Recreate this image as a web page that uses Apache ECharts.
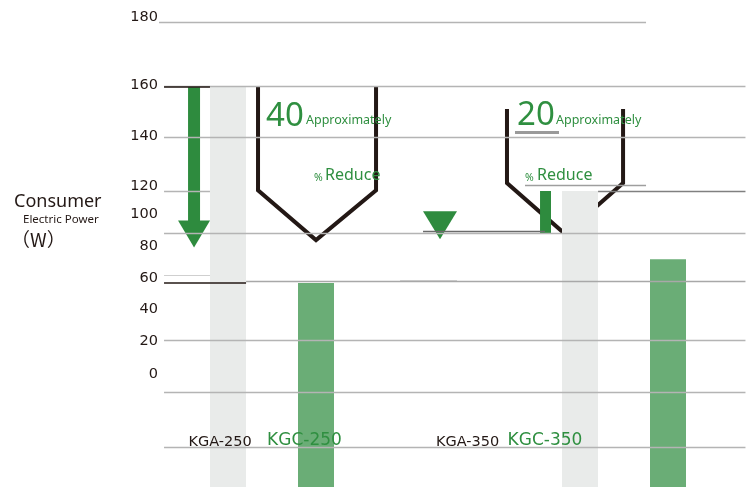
<!DOCTYPE html>
<html><head><meta charset="utf-8">
<script src="https://cdn.jsdelivr.net/npm/echarts@6/dist/echarts.min.js"></script>
<style>html,body{margin:0;padding:0;background:#fff}#c{width:746px;height:487px}</style>
</head><body><div id="c"></div>
<script>
// ---- data ----
const categories = ['KGA-250', 'KGC-250', '', ' ', 'KGA-350', 'KGC-350'];
const conventionalPower = [160, null, null, null, 120, null];
const improvedPower = [null, 85, null, null, null, 94];
const reductionPercent = ['40', '20'];
const tickLabels = ['180', '160', '140', '120', '100', '80', '60', '40', '20', '0'];
const tickLevels = [186.2, 160.3, 140.9, 121.8, 111.2, 99.0, 86.8, 74.8, 62.6, 50.2];

// ---- styling ----
const DARK = '#231815', ARROW = '#2e8b3e', TXT = '#2f8f40';
const BAR_GRAY = '#e9ebea', BAR_GREEN = '#6aad76', GRID = '#b4b4b4';
const FONT = '"Noto Sans", "DejaVu Sans", sans-serif';
const FONT2 = '"DejaVu Sans", sans-serif';

const chart = echarts.init(document.getElementById('c'), null, {renderer: 'canvas'});

function seg(u1, u2, v, color, width) {
  return [{coord: [u1, v], lineStyle: {color: color, width: width, type: 'solid'}}, {coord: [u2, v]}];
}
const gridSegments = [
  seg(-0.784, 4.75, 184.4, GRID, 1.3),
  seg(-0.727, 5.88, 159.8, GRID, 1.3),
  seg(-0.727, -0.205, 159.8, DARK, 1.5),
  seg(-0.727, 5.88, 140.6, GRID, 1.3),
  seg(3.375, 4.75, 122.3, '#9e9e9e', 1.3),
  seg(-0.727, -0.205, 120, GRID, 1.3),
  seg(4.205, 5.88, 120, '#808080', 1.3),
  seg(-0.727, 5.88, 103.8, GRID, 1.3),
  seg(2.216, 3.602, 104.8, '#6b6b6b', 1.3),
  seg(-0.727, -0.205, 88, '#cfcfcf', 1.2),
  seg(-0.727, 0.205, 85, DARK, 1.5),
  seg(0.205, 5.88, 85.7, '#a8a8a8', 1.3),
  seg(1.955, 2.602, 86.1, '#c8c8c8', 1.2),
  seg(-0.727, 5.88, 63.2, GRID, 1.3),
  seg(-0.727, 5.88, 43.4, GRID, 1.3),
  seg(-0.727, 5.88, 22.5, GRID, 1.3),
  seg(3.261, 3.761, 142.4, '#9a9a9a', 3)
];

const texts = [
  {u: 0.432, v: 148.4, text: reductionPercent[0], size: 33, color: TXT},
  {u: 0.886, v: 147.0, text: 'Approximately', size: 12.5, color: TXT},
  {u: 0.977, v: 124.9, text: '%', size: 10.5, color: TXT},
  {u: 1.102, v: 125.9, text: 'Reduce', size: 16, color: TXT},
  {u: 3.284, v: 148.8, text: reductionPercent[1], size: 33, color: TXT},
  {u: 3.727, v: 147.0, text: 'Approximately', size: 12.5, color: TXT},
  {u: 3.375, v: 124.9, text: '%', size: 10.5, color: TXT},
  {u: 3.511, v: 125.9, text: 'Reduce', size: 16, color: TXT},
  {u: -0.091, v: 24.4, text: categories[0], size: 14.5, color: DARK, align: 'center', font: FONT2},
  {u: 0.869, v: 24.95, text: categories[1], size: 17, color: TXT, align: 'center', font: FONT2},
  {u: 2.722, v: 24.4, text: categories[4], size: 14.5, color: DARK, align: 'center', font: FONT2},
  {u: 3.602, v: 24.95, text: categories[5], size: 17, color: TXT, align: 'center', font: FONT2}
];

const option = {
  animation: false,
  backgroundColor: '#ffffff',
  grid: [
    {left: 184, right: 34, top: 7.25, bottom: -19, outerBoundsMode: 'none', containLabel: false},
    {left: 0, right: 0, top: 7.25, bottom: -19, outerBoundsMode: 'none', containLabel: false}
  ],
  xAxis: [
    {type: 'category', gridIndex: 0, data: categories, show: false},
    {type: 'value', gridIndex: 1, min: -2.591, max: 5.886, show: false}
  ],
  yAxis: [{
    type: 'value', gridIndex: 0, min: 0, max: 190,
    axisLine: {show: false}, axisTick: {show: false}, splitLine: {show: false},
    axisLabel: {
      customValues: tickLevels,
      margin: 26, color: DARK, fontSize: 14.5, fontFamily: FONT2,
      formatter: function (val) {
        const i = tickLevels.findIndex(t => Math.abs(t - val) < 1e-6);
        return i >= 0 ? tickLabels[i] : '';
      }
    }
  }, {
    type: 'value', gridIndex: 1, min: 0, max: 190, show: false
  }],
  graphic: [
    {type: 'text', x: 14, y: 202, style: {text: 'Consumer', font: '18px ' + FONT, fill: DARK, textVerticalAlign: 'middle', verticalAlign: 'middle'}},
    {type: 'text', x: 23, y: 220, style: {text: 'Electric Power', font: '11.5px ' + FONT, fill: DARK, textVerticalAlign: 'middle', verticalAlign: 'middle'}},
    {type: 'text', x: 11, y: 240, style: {text: '（W）', font: '19px "Noto Sans CJK JP", ' + FONT, fill: DARK, textVerticalAlign: 'middle', verticalAlign: 'middle'}}
  ],
  series: [
    {
      type: 'line', xAxisIndex: 1, yAxisIndex: 1, data: [], z: 1, clip: false, silent: true,
      markLine: {silent: true, symbol: ['none', 'none'], label: {show: false}, animation: false, data: gridSegments}
    },
    {
      type: 'line', xAxisIndex: 1, yAxisIndex: 1, z: 1, clip: false, symbol: 'none', silent: true,
      lineStyle: {color: DARK, width: 4, join: 'miter'},
      data: [[0.341, 159.9], [0.341, 120.3], [1.0, 101.3], [1.682, 120.3], [1.682, 159.9]]
    },
    {
      type: 'line', xAxisIndex: 1, yAxisIndex: 1, z: 1, clip: false, symbol: 'none', silent: true,
      lineStyle: {color: DARK, width: 4, join: 'miter'},
      data: [[3.170, 151.2], [3.170, 123.0], [3.830, 103.6], [4.489, 123.0], [4.489, 151.2]]
    },
    {
      name: 'conventional', type: 'bar', xAxisIndex: 0, yAxisIndex: 0, data: conventionalPower,
      barWidth: 36, barGap: '-100%', z: 3, itemStyle: {color: BAR_GRAY}
    },
    {
      name: 'improved', type: 'bar', xAxisIndex: 0, yAxisIndex: 0, data: improvedPower,
      barWidth: 36, barGap: '-100%', z: 3, itemStyle: {color: BAR_GREEN}
    },
    {
      type: 'line', xAxisIndex: 1, yAxisIndex: 1, z: 4, clip: false, symbol: 'none', silent: true,
      lineStyle: {color: ARROW, width: 12, cap: 'butt'},
      data: [[-0.386, 159.9], [-0.386, 108]]
    },
    {
      type: 'line', xAxisIndex: 1, yAxisIndex: 1, z: 4, clip: false, symbol: 'none', silent: true,
      lineStyle: {color: ARROW, width: 11, cap: 'butt'},
      data: [[3.608, 120], [3.608, 104]]
    },
    {
      type: 'scatter', xAxisIndex: 1, yAxisIndex: 1, z: 4, clip: false, silent: true,
      symbol: 'triangle', symbolRotate: 180, itemStyle: {color: ARROW, opacity: 1},
      data: [
        {value: [-0.386, 103.6], symbolSize: [32, 27]},
        {value: [2.409, 107.0], symbolSize: [34, 28]}
      ]
    },
    {
      type: 'scatter', xAxisIndex: 1, yAxisIndex: 1, z: 5, clip: false, silent: true, symbolSize: 0,
      itemStyle: {color: 'transparent'},
      data: texts.map(t => ({
        value: [t.u, t.v],
        label: {
          show: true, position: 'inside', formatter: t.text,
          align: t.align || 'left', verticalAlign: 'middle',
          color: t.color, fontSize: t.size, fontFamily: t.font || FONT,
          textBorderWidth: 0, textBorderColor: 'transparent', opacity: 1
        }
      }))
    }
  ]
};
chart.setOption(option);
</script>
</body></html>
